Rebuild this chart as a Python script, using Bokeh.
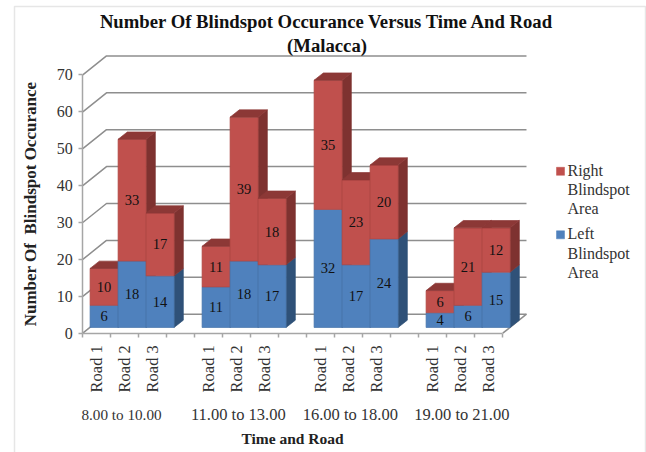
from math import pi
from bokeh.plotting import figure
from bokeh.models import (ColumnDataSource, FixedTicker, LabelSet,
                          BoxAnnotation, Range1d)
from bokeh.embed import file_html
from bokeh.resources import INLINE

groups = ["8.00 to 10.00", "11.00 to 13.00", "16.00 to 18.00", "19.00 to 21.00"]
roads = ["Road 1", "Road 2", "Road 3"]
left_values = [6, 18, 14, 11, 18, 17, 32, 17, 24, 4, 6, 15]
right_values = [10, 33, 17, 11, 39, 18, 35, 23, 20, 6, 21, 12]
y_ticks = [0, 10, 20, 30, 40, 50, 60, 70]
title_lines = ["Number Of Blindspot Occurance Versus Time And Road", "(Malacca)"]
y_title = "Number Of \u00a0Blindspot Occurance"
x_title = "Time and Road"
legend_labels = ["Right\nBlindspot\nArea", "Left\nBlindspot\nArea"]

FONT = "Liberation Serif"
RED, RED_SIDE, RED_TOP, RED_EDGE = "#C0504D", "#7E3230", "#8C3836", "#B04845"
BLUE, BLUE_SIDE, BLUE_EDGE = "#4F81BD", "#2F5178", "#4874AA"
GRID = "#8E8E8E"
AXIS = "#A6A6A6"

W, H = 646, 452
X0, Y0 = 82.3, 332.7      # pixel of the axis origin
SX, SY = 28.0, 3.69       # pixels per slot, pixels per unit
def px_x(px): return (px - X0) / SX
def px_y(py): return (Y0 - py) / SY

SLOTS = 15
BAR_DX, BAR_DY = 0.26, 1.55      # bar front plane, from axis plane
DEP_DX, DEP_DY = 0.33, 1.98      # bar depth
WALL_DX, WALL_DY = 0.846, 5.15   # back wall, from axis plane

slots = [g * 4 + r for g in range(len(groups)) for r in range(len(roads))]

xs, ys, fills, edges = [], [], [], []
def poly(px, py, c, e=None):
    xs.append(px); ys.append(py); fills.append(c); edges.append(e or c)

lab_x, lab_y, lab_t = [], [], []
for s, lv, rv in zip(slots, left_values, right_values):
    x0, x1 = s + BAR_DX, s + 1 + BAR_DX
    for base, v, face, side, edge in ((0, lv, BLUE, BLUE_SIDE, BLUE_EDGE),
                                      (lv, rv, RED, RED_SIDE, RED_EDGE)):
        b, t = base + BAR_DY, base + v + BAR_DY
        poly([x1, x1 + DEP_DX, x1 + DEP_DX, x1], [b, b + DEP_DY, t + DEP_DY, t], side)
        poly([x0, x1, x1, x0], [b, b, t, t], face, edge)
        lab_x.append((x0 + x1) / 2); lab_y.append((b + t) / 2); lab_t.append(str(v))
    t = lv + rv + BAR_DY
    poly([x0, x1, x1 + DEP_DX, x0 + DEP_DX], [t, t, t + DEP_DY, t + DEP_DY], RED_TOP)

p = figure(width=W, height=H, output_backend="svg", toolbar_location=None,
           x_range=Range1d(px_x(0), px_x(W)), y_range=Range1d(px_y(H), px_y(0)),
           min_border=0, margin=0,
           border_fill_color="white", background_fill_color="white")
p.outline_line_color = None
p.grid.visible = False

# walls
gx, gy = [], []
for v in y_ticks:
    gx.append([0, WALL_DX, SLOTS + WALL_DX]); gy.append([v, v + WALL_DY, v + WALL_DY])
gx.append([SLOTS, SLOTS + WALL_DX]); gy.append([0, WALL_DY])
p.multi_line(gx, gy, line_color=GRID, line_width=1.5)

bars = ColumnDataSource(dict(xs=xs, ys=ys, fill=fills, edge=edges))
p.patches("xs", "ys", source=bars, fill_color="fill", line_color="edge", line_width=0.7)

p.add_layout(LabelSet(x="x", y="y", text="t",
                      source=ColumnDataSource(dict(x=lab_x, y=lab_y, t=lab_t)),
                      text_font=FONT, text_font_size="14.5px", text_color="#111111",
                      text_align="center", text_baseline="middle"))

# axes
ya = p.yaxis[0]
ya.fixed_location = 0
ya.ticker = FixedTicker(ticks=y_ticks)
ya.bounds = (y_ticks[0], y_ticks[-1])
ya.axis_line_color = AXIS; ya.axis_line_width = 1.5
ya.major_tick_line_color = AXIS; ya.major_tick_line_width = 1.5
ya.major_tick_in = 0; ya.major_tick_out = 4; ya.minor_tick_line_color = None
ya.major_label_standoff = 6
ya.major_label_text_font = FONT; ya.major_label_text_font_size = "16px"
ya.major_label_text_color = "#333333"
ya.axis_label = y_title
ya.axis_label_text_font = FONT; ya.axis_label_text_font_style = "bold"
ya.axis_label_text_font_size = "17px"; ya.axis_label_text_color = "#222222"
ya.axis_label_standoff = 14

xa = p.xaxis[0]
xa.fixed_location = 0
xa.ticker = FixedTicker(ticks=list(range(SLOTS + 1)))
xa.major_label_overrides = {i: "" for i in range(SLOTS + 1)}
xa.bounds = (0, SLOTS)
xa.axis_line_color = AXIS; xa.axis_line_width = 1.5
xa.major_tick_line_color = AXIS; xa.major_tick_line_width = 1.5
xa.major_tick_in = 0; xa.major_tick_out = 4; xa.minor_tick_line_color = None
xa.axis_label = x_title
xa.axis_label_text_font = FONT; xa.axis_label_text_font_style = "bold"
xa.axis_label_text_font_size = "15.5px"; xa.axis_label_text_color = "#222222"
xa.axis_label_standoff = 92

road_src = ColumnDataSource(dict(
    x=[s + 0.5 for s in slots], y=[0] * len(slots),
    t=[roads[i % 3] for i in range(len(slots))]))
p.add_layout(LabelSet(x="x", y="y", text="t", source=road_src, angle=pi / 2, y_offset=-12,
                      text_font=FONT, text_font_size="16.5px", text_color="#333333",
                      text_align="right", text_baseline="middle"))
GROUP_NUDGE = [-3.3, 1.5, 1.5, 1.0]                     # pixels
GROUP_SIZE = ["15.2px", "16.5px", "16.5px", "16.5px"]
group_src = ColumnDataSource(dict(
    x=[g * 4 + 1.5 + GROUP_NUDGE[g] / SX for g in range(len(groups))],
    y=[0] * len(groups), t=groups, size=GROUP_SIZE))
p.add_layout(LabelSet(x="x", y="y", text="t", source=group_src, y_offset=-81,
                      text_font=FONT, text_font_size="size", text_color="#333333",
                      text_align="center", text_baseline="middle"))

# title
title_src = ColumnDataSource(dict(x=[px_x(326.5)] * 2, y=[px_y(21), px_y(45)], t=title_lines))
p.add_layout(LabelSet(x="x", y="y", text="t", source=title_src, text_font=FONT,
                      text_font_size="18.7px", text_font_style="bold", text_color="#111111",
                      text_align="center", text_baseline="middle"))

# legend
leg_rows = [px_y(170.8), px_y(234.3)]
p.rect(x=[px_x(560)] * 2, y=leg_rows, width=8 / SX, height=8 / SY,
       fill_color=[RED, BLUE], line_color=[RED, BLUE], line_width=0.5)
p.add_layout(LabelSet(x="x", y="y", text="t",
                      source=ColumnDataSource(dict(x=[px_x(567)] * 2,
                                                   y=[r + 9.5 / SY for r in leg_rows],
                                                   t=legend_labels)),
                      text_font=FONT, text_font_size="16px", text_color="#333333",
                      text_line_height=1.13, text_align="left", text_baseline="top"))

# picture border
p.add_layout(BoxAnnotation(left=px_x(14), right=px_x(645), top=px_y(6), bottom=px_y(480),
                           fill_alpha=0, line_color="#ABABAB", line_width=1.5))

open("out.html", "w").write(file_html(p, INLINE))
